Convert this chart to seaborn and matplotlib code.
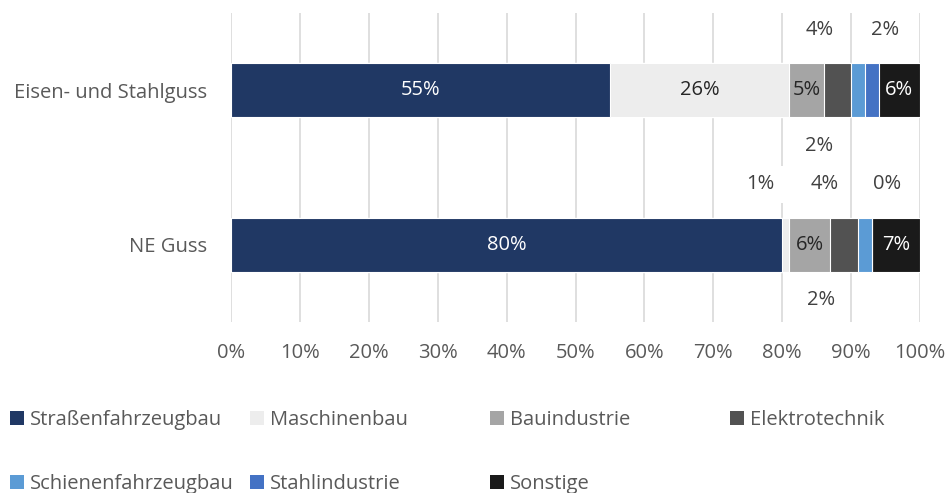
import matplotlib
matplotlib.use("Agg")
import matplotlib.pyplot as plt
from matplotlib.patches import Patch
import numpy as np
import seaborn as sns

# data
categories = ["Eisen- und Stahlguss", "NE Guss"]
series = ["Straßenfahrzeugbau", "Maschinenbau", "Bauindustrie", "Elektrotechnik",
          "Schienenfahrzeugbau", "Stahlindustrie", "Sonstige"]
strassen = [55, 80]
maschinen = [26, 1]
bau = [5, 6]
elektro = [4, 4]
schienen = [2, 2]
stahl = [2, 0]
sonstige = [6, 7]

colors = ["#203864", "#EDEDED", "#A5A5A5", "#525252", "#5B9BD5", "#4472C4", "#1A1A1A"]
text_gray = "#595959"

# label placement: inside labels (text colour) and callouts (side, x offset)
inside = {(0, 0): "white", (1, 0): "#262626", (2, 0): "#262626", (6, 0): "white",
          (0, 1): "white", (2, 1): "#262626", (6, 1): "white"}
outside = {(3, 0): ("above", -2.5), (5, 0): ("above", 2.0), (4, 0): ("below", -5.6),
           (1, 1): ("above", -3.7), (3, 1): ("above", -2.9), (5, 1): ("above", 2.2),
           (4, 1): ("below", -6.4)}

sns.set_theme(style="white")
plt.rcParams['font.family'] = ['Open Sans', 'DejaVu Sans']
fs = 14.5

fig = plt.figure(figsize=(9.47, 4.93), dpi=100)
ax = fig.add_axes([231 / 947, 1 - 322 / 493, 689 / 947, 309 / 493])

values = np.array([strassen, maschinen, bau, elektro, schienen, stahl, sonstige])
cum = values.cumsum(axis=0)

# stacked bars: draw the longest cumulative first
for i in reversed(range(len(series))):
    sns.barplot(x=cum[i], y=categories, color=colors[i], width=0.35, saturation=1,
                edgecolor="white", linewidth=0.8, ax=ax, orient="h")

ax.set_xlim(0, 100)
ax.set_ylim(1.5, -0.5)
ax.set_xticks(range(0, 101, 10))
ax.set_xticklabels([f"{v}%" for v in range(0, 101, 10)])
ax.set_xlabel("")
ax.set_ylabel("")
ax.set_axisbelow(True)
ax.grid(axis="x", color="#D9D9D9", linewidth=1.2)
ax.grid(axis="y", visible=False)
for sp in ax.spines.values():
    sp.set_visible(False)
ax.tick_params(axis="x", length=0, pad=15, labelsize=fs, labelcolor=text_gray)
ax.tick_params(axis="y", length=0, pad=17, labelsize=fs, labelcolor=text_gray)

# value labels
for (s, r), col in inside.items():
    center = cum[s][r] - values[s][r] / 2
    ax.text(center, r, f"{values[s][r]}%", ha="center", va="center", color=col, fontsize=fs)
for (s, r), (side, dx) in outside.items():
    center = cum[s][r] - values[s][r] / 2
    y = r - 0.39 if side == "above" else r + 0.36
    ax.text(center + dx, y, f"{values[s][r]}%", ha="center", va="center", color="#404040",
            fontsize=fs, bbox=dict(facecolor="white", edgecolor="none", pad=6))

# legend: one entry per slot on a 4-column grid
for i, name in enumerate(series):
    row, col = divmod(i, 4)
    fig.legend(handles=[Patch(facecolor=colors[i], edgecolor="none")], labels=[name],
               loc="center left", bbox_to_anchor=((10 + 240 * col) / 947, 1 - (420 + 64 * row) / 493),
               frameon=False, fontsize=fs, labelcolor=text_gray, borderpad=0, borderaxespad=0,
               handlelength=0.7, handleheight=0.7, handletextpad=0.3)

fig.savefig("out.png", dpi=100)
